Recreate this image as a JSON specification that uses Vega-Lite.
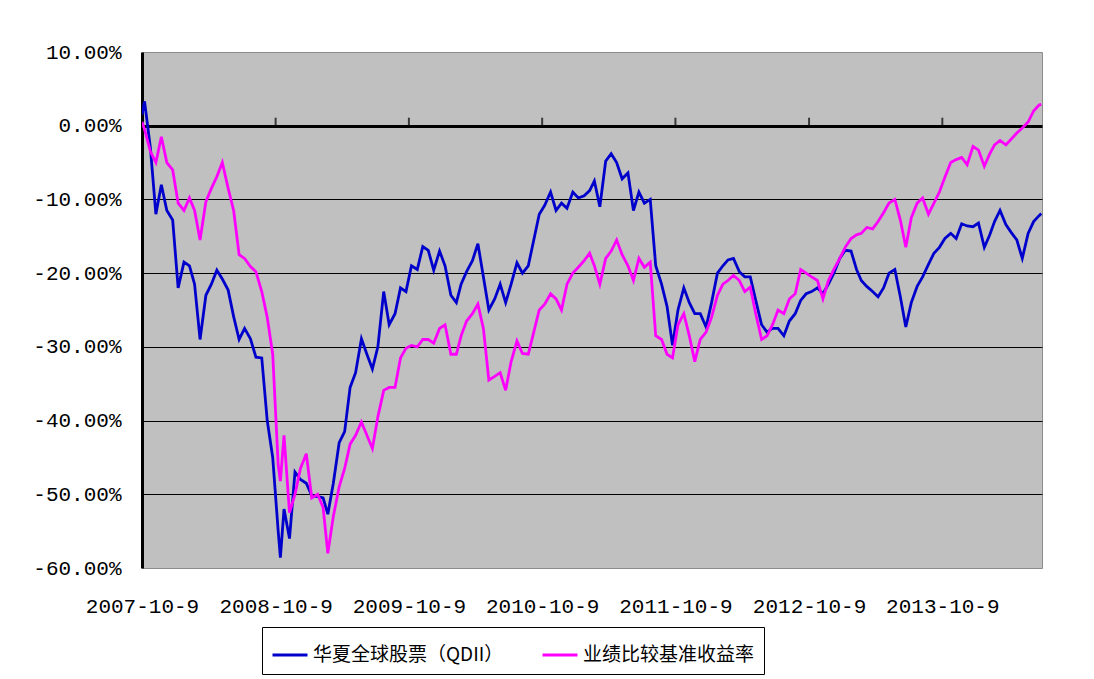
{
  "$schema": "https://vega.github.io/schema/vega-lite/v6.json",
  "width": 900,
  "height": 516,
  "autosize": "none",
  "padding": {"left": 142, "top": 52, "right": 52, "bottom": 111},
  "background": "white",
  "config": {"view": {"fill": "#c0c0c0", "stroke": "#8c8c8c", "strokeWidth": 1}},
  "datasets": {
    "ret": [
      {"d":"2007-10-09","A":1.5,"B":0.5},
      {"d":"2007-10-16","A":3.3,"B":-0.5},
      {"d":"2007-11-01","A":-3.0,"B":-3.5},
      {"d":"2007-11-16","A":-12.0,"B":-5.0},
      {"d":"2007-12-01","A":-8.0,"B":-1.5},
      {"d":"2007-12-16","A":-11.5,"B":-5.0},
      {"d":"2008-01-01","A":-12.8,"B":-6.0},
      {"d":"2008-01-16","A":-22.0,"B":-10.5},
      {"d":"2008-02-01","A":-18.5,"B":-11.5},
      {"d":"2008-02-16","A":-19.0,"B":-9.8},
      {"d":"2008-03-01","A":-21.5,"B":-11.5},
      {"d":"2008-03-16","A":-29.0,"B":-15.5},
      {"d":"2008-04-01","A":-23.0,"B":-10.3},
      {"d":"2008-04-16","A":-21.5,"B":-8.5},
      {"d":"2008-05-01","A":-19.6,"B":-6.9},
      {"d":"2008-05-16","A":-20.8,"B":-5.0},
      {"d":"2008-06-01","A":-22.3,"B":-8.5},
      {"d":"2008-06-16","A":-25.9,"B":-11.5},
      {"d":"2008-07-01","A":-29.0,"B":-17.5},
      {"d":"2008-07-16","A":-27.5,"B":-18.0},
      {"d":"2008-08-01","A":-28.9,"B":-19.1},
      {"d":"2008-08-16","A":-31.4,"B":-19.8},
      {"d":"2008-09-01","A":-31.5,"B":-22.5},
      {"d":"2008-09-16","A":-40.0,"B":-26.0},
      {"d":"2008-10-01","A":-45.0,"B":-31.0},
      {"d":"2008-10-16","A":-55.0,"B":-46.0},
      {"d":"2008-10-22","A":-58.6,"B":-48.2},
      {"d":"2008-11-01","A":-52.0,"B":-42.0},
      {"d":"2008-11-16","A":-56.0,"B":-52.5},
      {"d":"2008-12-01","A":-47.0,"B":-50.0},
      {"d":"2008-12-16","A":-48.0,"B":-46.5},
      {"d":"2009-01-01","A":-48.5,"B":-44.5},
      {"d":"2009-01-16","A":-50.2,"B":-50.5},
      {"d":"2009-02-01","A":-50.3,"B":-50.0},
      {"d":"2009-02-16","A":-50.5,"B":-51.8},
      {"d":"2009-03-01","A":-52.7,"B":-58.0},
      {"d":"2009-03-16","A":-48.5,"B":-53.0},
      {"d":"2009-04-01","A":-43.0,"B":-49.0},
      {"d":"2009-04-16","A":-41.5,"B":-46.5},
      {"d":"2009-05-01","A":-35.5,"B":-43.2},
      {"d":"2009-05-16","A":-33.5,"B":-42.0},
      {"d":"2009-06-01","A":-28.9,"B":-40.2},
      {"d":"2009-06-16","A":-31.0,"B":-42.0},
      {"d":"2009-07-01","A":-33.0,"B":-43.8},
      {"d":"2009-07-16","A":-30.0,"B":-39.5},
      {"d":"2009-08-01","A":-22.5,"B":-35.9},
      {"d":"2009-08-16","A":-27.0,"B":-35.5},
      {"d":"2009-09-01","A":-25.5,"B":-35.5},
      {"d":"2009-09-16","A":-22.0,"B":-31.5},
      {"d":"2009-10-01","A":-22.5,"B":-30.2},
      {"d":"2009-10-16","A":-19.0,"B":-29.8},
      {"d":"2009-11-01","A":-19.5,"B":-30.0},
      {"d":"2009-11-16","A":-16.4,"B":-29.0},
      {"d":"2009-12-01","A":-16.9,"B":-29.0},
      {"d":"2009-12-16","A":-19.6,"B":-29.5},
      {"d":"2010-01-01","A":-17.0,"B":-27.5},
      {"d":"2010-01-16","A":-19.0,"B":-27.0},
      {"d":"2010-02-01","A":-23.0,"B":-31.0},
      {"d":"2010-02-16","A":-24.0,"B":-31.0},
      {"d":"2010-03-01","A":-21.5,"B":-28.5},
      {"d":"2010-03-16","A":-19.8,"B":-26.5},
      {"d":"2010-04-01","A":-18.3,"B":-25.5},
      {"d":"2010-04-16","A":-16.0,"B":-24.2},
      {"d":"2010-05-01","A":-20.5,"B":-27.5},
      {"d":"2010-05-16","A":-25.0,"B":-34.5},
      {"d":"2010-06-01","A":-23.5,"B":-34.0},
      {"d":"2010-06-16","A":-21.5,"B":-33.5},
      {"d":"2010-07-01","A":-24.0,"B":-35.9},
      {"d":"2010-07-16","A":-21.5,"B":-32.0},
      {"d":"2010-08-01","A":-18.6,"B":-29.2},
      {"d":"2010-08-16","A":-20.0,"B":-30.9},
      {"d":"2010-09-01","A":-19.0,"B":-31.0},
      {"d":"2010-09-16","A":-15.5,"B":-28.0},
      {"d":"2010-10-01","A":-12.0,"B":-25.0},
      {"d":"2010-10-16","A":-10.8,"B":-24.2},
      {"d":"2010-11-01","A":-9.0,"B":-22.8},
      {"d":"2010-11-16","A":-11.5,"B":-23.5},
      {"d":"2010-12-01","A":-10.5,"B":-25.0},
      {"d":"2010-12-16","A":-11.2,"B":-21.5},
      {"d":"2011-01-01","A":-9.0,"B":-20.0},
      {"d":"2011-01-16","A":-9.8,"B":-19.2},
      {"d":"2011-02-01","A":-9.5,"B":-18.3},
      {"d":"2011-02-16","A":-8.8,"B":-17.3},
      {"d":"2011-03-01","A":-7.5,"B":-19.0},
      {"d":"2011-03-16","A":-11.0,"B":-21.5},
      {"d":"2011-04-01","A":-4.8,"B":-18.0},
      {"d":"2011-04-16","A":-3.8,"B":-17.0},
      {"d":"2011-05-01","A":-5.0,"B":-15.5},
      {"d":"2011-05-16","A":-7.2,"B":-17.5},
      {"d":"2011-06-01","A":-6.4,"B":-19.0},
      {"d":"2011-06-16","A":-11.5,"B":-21.0},
      {"d":"2011-07-01","A":-9.0,"B":-18.0},
      {"d":"2011-07-16","A":-10.5,"B":-19.2},
      {"d":"2011-08-01","A":-10.0,"B":-18.5},
      {"d":"2011-08-16","A":-19.0,"B":-28.5},
      {"d":"2011-09-01","A":-21.5,"B":-29.0},
      {"d":"2011-09-16","A":-24.5,"B":-31.0},
      {"d":"2011-10-01","A":-29.8,"B":-31.5},
      {"d":"2011-10-16","A":-25.0,"B":-27.0},
      {"d":"2011-11-01","A":-22.0,"B":-25.5},
      {"d":"2011-11-16","A":-24.0,"B":-28.5},
      {"d":"2011-12-01","A":-25.5,"B":-32.0},
      {"d":"2011-12-16","A":-25.5,"B":-29.0},
      {"d":"2012-01-01","A":-27.3,"B":-28.0},
      {"d":"2012-01-16","A":-24.0,"B":-26.0},
      {"d":"2012-02-01","A":-20.0,"B":-23.0},
      {"d":"2012-02-16","A":-19.0,"B":-21.5},
      {"d":"2012-03-01","A":-18.2,"B":-21.0},
      {"d":"2012-03-16","A":-18.0,"B":-20.3},
      {"d":"2012-04-01","A":-19.8,"B":-21.0},
      {"d":"2012-04-16","A":-20.5,"B":-22.5},
      {"d":"2012-05-01","A":-20.5,"B":-21.9},
      {"d":"2012-05-16","A":-23.7,"B":-25.5},
      {"d":"2012-06-01","A":-27.0,"B":-29.0},
      {"d":"2012-06-16","A":-28.0,"B":-28.5},
      {"d":"2012-07-01","A":-27.5,"B":-27.0},
      {"d":"2012-07-16","A":-27.5,"B":-25.0},
      {"d":"2012-08-01","A":-28.5,"B":-25.5},
      {"d":"2012-08-16","A":-26.5,"B":-23.5},
      {"d":"2012-09-01","A":-25.5,"B":-22.8},
      {"d":"2012-09-16","A":-23.7,"B":-19.5},
      {"d":"2012-10-01","A":-22.8,"B":-20.0},
      {"d":"2012-10-16","A":-22.5,"B":-20.5},
      {"d":"2012-11-01","A":-22.0,"B":-21.0},
      {"d":"2012-11-16","A":-22.8,"B":-23.5},
      {"d":"2012-12-01","A":-21.5,"B":-21.0},
      {"d":"2012-12-16","A":-20.0,"B":-19.5},
      {"d":"2013-01-01","A":-18.0,"B":-18.0},
      {"d":"2013-01-16","A":-16.9,"B":-16.5},
      {"d":"2013-02-01","A":-17.0,"B":-15.3},
      {"d":"2013-02-16","A":-19.5,"B":-14.8},
      {"d":"2013-03-01","A":-21.0,"B":-14.6},
      {"d":"2013-03-16","A":-21.8,"B":-13.8},
      {"d":"2013-04-01","A":-22.5,"B":-14.0},
      {"d":"2013-04-16","A":-23.2,"B":-13.0},
      {"d":"2013-05-01","A":-22.0,"B":-11.8},
      {"d":"2013-05-16","A":-20.0,"B":-10.5},
      {"d":"2013-06-01","A":-19.5,"B":-10.0},
      {"d":"2013-06-16","A":-23.2,"B":-12.8},
      {"d":"2013-07-01","A":-27.3,"B":-16.5},
      {"d":"2013-07-16","A":-24.0,"B":-12.5},
      {"d":"2013-08-01","A":-21.8,"B":-10.5},
      {"d":"2013-08-16","A":-20.5,"B":-9.8},
      {"d":"2013-09-01","A":-18.8,"B":-12.0},
      {"d":"2013-09-16","A":-17.3,"B":-10.5},
      {"d":"2013-10-01","A":-16.5,"B":-9.0},
      {"d":"2013-10-16","A":-15.3,"B":-7.0},
      {"d":"2013-11-01","A":-14.6,"B":-5.0},
      {"d":"2013-11-16","A":-15.3,"B":-4.6},
      {"d":"2013-12-01","A":-13.3,"B":-4.3},
      {"d":"2013-12-16","A":-13.6,"B":-5.3},
      {"d":"2014-01-01","A":-13.7,"B":-2.8},
      {"d":"2014-01-16","A":-13.2,"B":-3.3},
      {"d":"2014-02-01","A":-16.5,"B":-5.5},
      {"d":"2014-02-16","A":-14.8,"B":-3.8},
      {"d":"2014-03-01","A":-13.0,"B":-2.6},
      {"d":"2014-03-16","A":-11.5,"B":-2.0},
      {"d":"2014-04-01","A":-13.4,"B":-2.6},
      {"d":"2014-04-16","A":-14.5,"B":-1.8},
      {"d":"2014-05-01","A":-15.5,"B":-1.0},
      {"d":"2014-05-16","A":-18.0,"B":-0.3},
      {"d":"2014-06-01","A":-14.6,"B":0.5},
      {"d":"2014-06-16","A":-13.0,"B":2.0},
      {"d":"2014-07-01","A":-12.2,"B":2.8},
      {"d":"2014-07-07","A":-11.9,"B":2.9}
    ],
    "yrs": [
      {"d":"2008-10-09"},
      {"d":"2009-10-09"},
      {"d":"2010-10-09"},
      {"d":"2011-10-09"},
      {"d":"2012-10-09"},
      {"d":"2013-10-09"}
    ]
  },
  "encoding": {
    "x": {
      "field": "d",
      "type": "temporal",
      "title": null,
      "scale": {
        "type": "utc",
        "domain": [
          {"year": 2007, "month": 10, "date": 9, "utc": true},
          {"year": 2014, "month": 7, "date": 9, "utc": true}
        ]
      },
      "axis": {
        "values": [
          {"year": 2007, "month": 10, "date": 9, "utc": true},
          {"year": 2008, "month": 10, "date": 9, "utc": true},
          {"year": 2009, "month": 10, "date": 9, "utc": true},
          {"year": 2010, "month": 10, "date": 9, "utc": true},
          {"year": 2011, "month": 10, "date": 9, "utc": true},
          {"year": 2012, "month": 10, "date": 9, "utc": true},
          {"year": 2013, "month": 10, "date": 9, "utc": true}
        ],
        "labelExpr": "utcFormat(datum.value, '%Y-%-m-%-d')",
        "title": null,
        "grid": false,
        "ticks": false,
        "domain": false,
        "labelFont": "Liberation Mono",
        "labelFontSize": 21,
        "labelColor": "black",
        "labelPadding": 27,
        "labelFlush": false,
        "labelOverlap": false,
        "labelBound": false
      }
    }
  },
  "layer": [
    {
      "data": {"name": "ret"},
      "transform": [{"fold": ["A", "B"], "as": ["series", "value"]}],
      "mark": {"type": "line", "strokeWidth": 2.8, "clip": true},
      "encoding": {
        "y": {
          "field": "value",
          "type": "quantitative",
          "title": null,
          "scale": {"domain": [-60, 10], "nice": false, "zero": false},
          "axis": {
            "values": [-60, -50, -40, -30, -20, -10, 0, 10],
            "labelExpr": "(datum.value < 0 ? '-' : '') + format(abs(datum.value), '.2f') + '%'",
            "title": null,
            "grid": true,
            "gridColor": "black",
            "gridWidth": {"condition": {"test": "datum.value === 0", "value": 3}, "value": 1},
            "gridOpacity": {"condition": {"test": "datum.value === 10 || datum.value === -60", "value": 0}, "value": 1},
            "ticks": false,
            "domain": true,
            "domainColor": "black",
            "domainWidth": 3,
            "labelFont": "Liberation Mono",
            "labelFontSize": 21,
            "labelColor": "black",
            "labelPadding": 21,
            "labelFlush": false,
            "labelOverlap": false
          }
        },
        "color": {
          "field": "series",
          "type": "nominal",
          "scale": {"domain": ["A", "B"], "range": ["#0000cc", "#ff00ff"]},
          "legend": {
            "orient": "none",
            "legendX": 120,
            "legendY": 575,
            "direction": "horizontal",
            "title": null,
            "symbolType": "stroke",
            "symbolSize": 1225,
            "symbolStrokeWidth": 3,
            "labelFont": "Noto Sans CJK SC",
            "labelFontSize": 19,
            "labelColor": "black",
            "labelLimit": 400,
            "labelOffset": 4,
            "labelExpr": "datum.label === 'A' ? '华夏全球股票（QDII）' : '业绩比较基准收益率'",
            "strokeColor": "black",
            "fillColor": "white",
            "padding": 9,
            "columnPadding": 32
          }
        }
      }
    },
    {
      "data": {"name": "yrs"},
      "mark": {"type": "tick", "orient": "vertical", "size": 8, "thickness": 2, "yOffset": -4, "color": "black"},
      "encoding": {
        "y": {"datum": 0, "type": "quantitative", "title": null}
      }
    }
  ]
}
